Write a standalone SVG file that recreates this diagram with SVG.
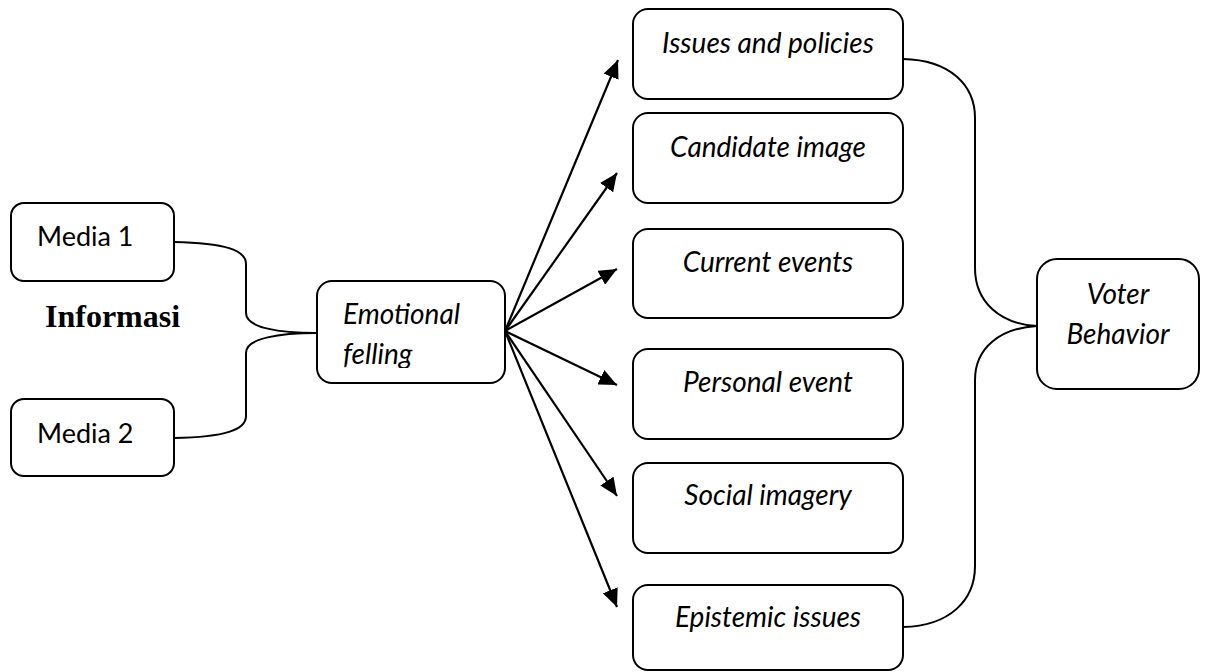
<svg xmlns="http://www.w3.org/2000/svg" width="1209" height="672" viewBox="0 0 1209 672">
<style>
.box{fill:#fff;stroke:#000;stroke-width:2}
.t{font-family:Lato,"Liberation Sans",sans-serif;font-size:27px;fill:#000}
.i{font-style:italic;font-size:28px}
.c{text-anchor:middle}
.ln{fill:none;stroke:#000;stroke-width:2}
.ar{fill:none;stroke:#000;stroke-width:2.2}
</style>
<defs>
<marker id="ah" markerUnits="userSpaceOnUse" markerWidth="20" markerHeight="16" refX="18" refY="8" orient="auto">
<path d="M0,0 L18,8 L0,16 Z" fill="#000"/>
</marker>
<clipPath id="emclip"><rect x="317" y="281" width="188" height="87"/></clipPath>
</defs>
<rect width="1209" height="672" fill="#fff"/>
<g id="connectors">
<path class="ln" d="M174,242 C225,243 246,250 246,264 V313 C246,328 280,333 317,333"/>
<path class="ln" d="M174,438 C225,437 246,430 246,416 V353 C246,338 280,333 317,333"/>
<path class="ln" d="M903,59 C950,60 975,85 975,118 V268 C975,302 1000,324 1037,326"/>
<path class="ln" d="M903,627 C950,626 975,600 975,566 V380 C975,348 1000,328 1037,326"/>
<line class="ar" x1="505" y1="331" x2="618" y2="60" marker-end="url(#ah)"/>
<line class="ar" x1="505" y1="331" x2="617" y2="173" marker-end="url(#ah)"/>
<line class="ar" x1="505" y1="331" x2="617" y2="269" marker-end="url(#ah)"/>
<line class="ar" x1="505" y1="331" x2="617" y2="385" marker-end="url(#ah)"/>
<line class="ar" x1="505" y1="331" x2="617" y2="496" marker-end="url(#ah)"/>
<line class="ar" x1="505" y1="331" x2="617" y2="607" marker-end="url(#ah)"/>
</g>
<g id="media1"><rect class="box" x="11" y="203" width="163" height="78" rx="13"/><text class="t" x="37" y="246">Media 1</text></g>
<g id="media2"><rect class="box" x="11" y="399" width="163" height="77" rx="13"/><text class="t" x="37" y="443">Media 2</text></g>
<g id="informasi"><text x="45" y="327" font-family="'Liberation Serif',serif" font-weight="bold" font-size="32px">Informasi</text></g>
<g id="emotional"><rect class="box" x="317" y="281" width="188" height="102" rx="15"/>
<g clip-path="url(#emclip)"><text class="t i" x="343" y="324">Emotional</text><text class="t i" x="343" y="364">felling</text></g></g>
<g id="issues"><rect class="box" x="633" y="9" width="270" height="90" rx="15"/><text class="t i c" x="768" y="53">Issues and policies</text></g>
<g id="candidate"><rect class="box" x="633" y="113" width="270" height="90" rx="15"/><text class="t i c" x="768" y="157">Candidate image</text></g>
<g id="current"><rect class="box" x="633" y="229" width="270" height="89" rx="15"/><text class="t i c" x="768" y="272">Current events</text></g>
<g id="personal"><rect class="box" x="633" y="349" width="270" height="90" rx="15"/><text class="t i c" x="768" y="392">Personal event</text></g>
<g id="social"><rect class="box" x="633" y="463" width="270" height="90" rx="15"/><text class="t i c" x="768" y="505">Social imagery</text></g>
<g id="epistemic"><rect class="box" x="633" y="585" width="270" height="85" rx="15"/><text class="t i c" x="768" y="627">Epistemic issues</text></g>
<g id="voter"><rect class="box" x="1037" y="259" width="162" height="130" rx="20"/><text class="t i c" x="1118" y="304">Voter</text><text class="t i c" x="1118" y="344">Behavior</text></g>
</svg>
